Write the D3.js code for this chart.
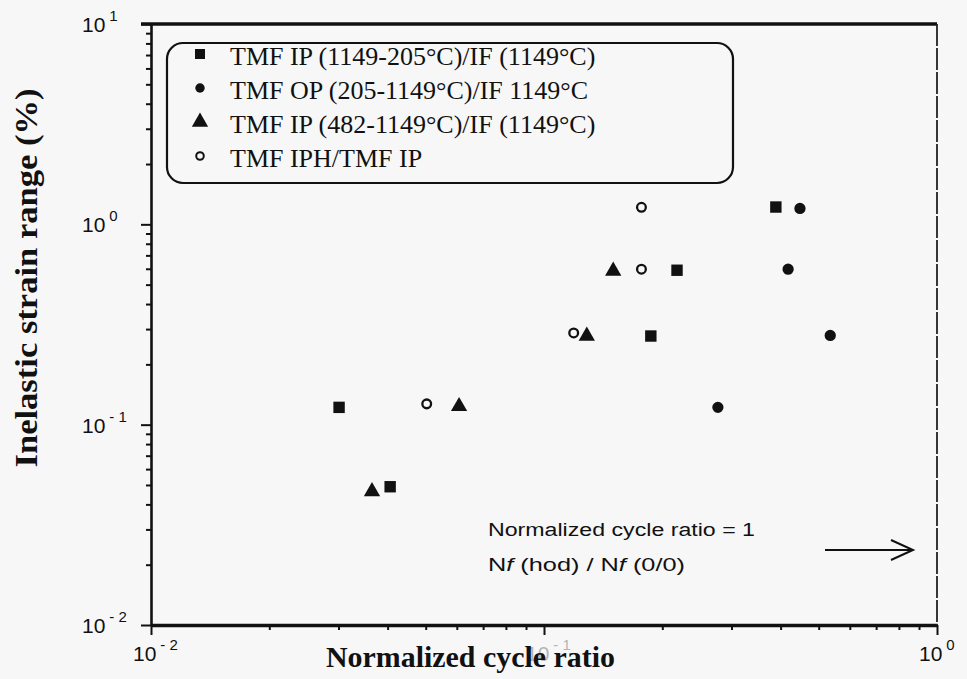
<!DOCTYPE html>
<html>
<head>
<meta charset="utf-8">
<script src="https://cdn.jsdelivr.net/npm/d3@7"></script>
<style>
body { margin: 0; background: #f7f7f7; }
svg { display: block; }
</style>
</head>
<body>
<div id="chart"></div>
<script>
// values
var seriesNames = [
    "TMF IP (1149-205°C)/IF (1149°C)",
    "TMF OP (205-1149°C)/IF 1149°C",
    "TMF IP (482-1149°C)/IF (1149°C)",
    "TMF IPH/TMF IP"
];
var ipCycleRatio = [0.0301, 0.0406, 0.187, 0.218, 0.389];
var ipStrain = [0.122, 0.049, 0.277, 0.59, 1.22];
var opCycleRatio = [0.277, 0.418, 0.448, 0.535];
var opStrain = [0.122, 0.597, 1.2, 0.279];
var ip482CycleRatio = [0.0365, 0.0608, 0.1285, 0.150];
var ip482Strain = [0.0464, 0.1235, 0.277, 0.585];
var iphCycleRatio = [0.0503, 0.119, 0.177, 0.177];
var iphStrain = [0.127, 0.287, 1.216, 0.597];

var xTickValues = [0.01, 0.1, 1];
var xTickExponents = ["-2", "-1", "0"];
var yTickValues = [0.01, 0.1, 1, 10];
var yTickExponents = ["-2", "-1", "0", "1"];

/**
 * Constructor for the strain range vs cycle ratio chart
 */
function StrainChart(){
    var self = this;
    self.init();
};

/**
 * Sets up the svg, scales and axes
 */
StrainChart.prototype.init = function(){
    var self = this;
    self.margin = {top: 24, left: 151};
    self.width = 786;
    self.height = 601;

    self.svg = d3.select("#chart").append("svg")
        .attr("width", 967)
        .attr("height", 679);

    self.x = d3.scaleLog().domain([0.01, 1])
        .range([self.margin.left, self.margin.left + self.width]);
    self.y = d3.scaleLog().domain([0.01, 10])
        .range([self.margin.top + self.height, self.margin.top]);
};

/**
 * Formats an exponent the way the scan prints it
 */
StrainChart.prototype.expText = function(e){
    return e.charAt(0) == "-" ? "- " + e.substring(1) : e;
};

/**
 * Draws frame, ticks and labels
 */
StrainChart.prototype.drawAxes = function(){
    var self = this;
    var x = self.x, y = self.y;
    var bottom = y(0.01), left = x(0.01);

    //minor ticks come from the log scale itself
    var yMinor = y.ticks().filter(function(d){ return yTickValues.indexOf(d) < 0; });
    var xMinor = x.ticks().filter(function(d){ return xTickValues.indexOf(d) < 0; });

    var gy = self.svg.append("g").attr("transform", "translate(" + left + ",0)")
        .call(d3.axisLeft(y).tickValues(yTickValues).tickSize(10).tickSizeOuter(0).tickFormat(""));
    var gyMinor = self.svg.append("g").attr("transform", "translate(" + left + ",0)")
        .call(d3.axisLeft(y).tickValues(yMinor).tickSize(5).tickSizeOuter(0).tickFormat(""));
    gyMinor.select(".domain").remove();

    var gx = self.svg.append("g").attr("transform", "translate(0," + bottom + ")")
        .call(d3.axisBottom(x).tickValues(xTickValues).tickSize(10).tickSizeOuter(0).tickFormat(""));
    var gxMinor = self.svg.append("g").attr("transform", "translate(0," + bottom + ")")
        .call(d3.axisBottom(x).tickValues(xMinor).tickSize(5).tickSizeOuter(0).tickFormat(""));
    gxMinor.select(".domain").remove();

    self.svg.selectAll(".tick line").attr("stroke", "#111").attr("stroke-width", 2);
    gy.select(".domain").attr("stroke", "#111").attr("stroke-width", 2.6);
    gx.select(".domain").attr("stroke", "#111").attr("stroke-width", 3.6);

    //top and right edges of the frame
    self.svg.append("line")
        .attr("x1", left - 10).attr("x2", x(1))
        .attr("y1", y(10)).attr("y2", y(10))
        .attr("stroke", "#111").attr("stroke-width", 3.6);
    self.svg.append("line")
        .attr("x1", x(1)).attr("x2", x(1))
        .attr("y1", y(10)).attr("y2", bottom)
        .attr("stroke", "#222").attr("stroke-width", 1.8)
        .attr("stroke-dasharray", "22 2");

    //tick labels: 10 with raised exponent
    var ylab = self.svg.append("g").selectAll("text").data(yTickValues).enter().append("text")
        .attr("x", 82)
        .attr("y", function(d){ return y(d) + 8; })
        .attr("font-family", "Liberation Sans, Arial, sans-serif")
        .attr("font-size", 21)
        .attr("fill", "#111");
    ylab.append("tspan").text("10");
    ylab.append("tspan")
        .attr("dx", 4).attr("dy", -11)
        .attr("font-size", 15)
        .text(function(d, i){ return self.expText(yTickExponents[i]); });

    var xlab = self.svg.append("g").selectAll("text").data(xTickValues).enter().append("text")
        .attr("x", function(d){ return x(d) - 18; })
        .attr("y", bottom + 36)
        .attr("font-family", "Liberation Sans, Arial, sans-serif")
        .attr("font-size", 21)
        .attr("fill", function(d){ return d == 0.1 ? "#b5b5b5" : "#111"; });
    xlab.append("tspan").text("10");
    xlab.append("tspan")
        .attr("dx", 4).attr("dy", -11)
        .attr("font-size", 15)
        .text(function(d, i){ return self.expText(xTickExponents[i]); });

    //axis titles
    self.svg.append("text")
        .attr("x", 326).attr("y", 667)
        .attr("font-family", "Liberation Serif, Times New Roman, serif")
        .attr("font-weight", "bold")
        .attr("font-size", 29)
        .attr("textLength", 289)
        .attr("lengthAdjust", "spacingAndGlyphs")
        .attr("fill", "#111")
        .text("Normalized cycle ratio");

    self.svg.append("text")
        .attr("transform", "translate(37,278) rotate(-90)")
        .attr("text-anchor", "middle")
        .attr("font-family", "Liberation Serif, Times New Roman, serif")
        .attr("font-weight", "bold")
        .attr("font-size", 31)
        .attr("textLength", 379)
        .attr("lengthAdjust", "spacingAndGlyphs")
        .attr("fill", "#111")
        .text("Inelastic strain range (%)");
};

/**
 * Draws the four series and the legend box
 */
StrainChart.prototype.update = function(){
    var self = this;
    var x = self.x, y = self.y;

    var series = [
        {name: seriesNames[0], xs: ipCycleRatio, ys: ipStrain, type: d3.symbolSquare, size: 130, open: false, lsize: 100},
        {name: seriesNames[1], xs: opCycleRatio, ys: opStrain, type: d3.symbolCircle, size: 100, open: false, lsize: 70},
        {name: seriesNames[2], xs: ip482CycleRatio, ys: ip482Strain, type: d3.symbolTriangle, size: 115, open: false, lsize: 115},
        {name: seriesNames[3], xs: iphCycleRatio, ys: iphStrain, type: d3.symbolCircle, size: 60, open: true, lsize: 45}
    ];

    var groups = self.svg.selectAll("g.series").data(series).enter().append("g")
        .attr("class", "series");

    groups.selectAll("path").data(function(s){
        return s.xs.map(function(v, i){ return {x: v, y: s.ys[i], s: s}; });
    }).enter().append("path")
        .attr("d", function(d){ return d3.symbol().type(d.s.type).size(d.s.size)(); })
        .attr("transform", function(d){ return "translate(" + x(d.x) + "," + y(d.y) + ")"; })
        .attr("fill", function(d){ return d.s.open ? "none" : "#111"; })
        .attr("stroke", function(d){ return d.s.open ? "#111" : "none"; })
        .attr("stroke-width", 2.3);

    //legend
    var legend = self.svg.append("g");
    legend.append("rect")
        .attr("x", 167).attr("y", 43)
        .attr("width", 566).attr("height", 140)
        .attr("rx", 16).attr("ry", 16)
        .attr("fill", "none")
        .attr("stroke", "#111")
        .attr("stroke-width", 2.2);

    var rows = legend.selectAll("g").data(series).enter().append("g")
        .attr("transform", function(d, i){ return "translate(0," + (i * 34) + ")"; });
    rows.append("path")
        .attr("d", function(d){ return d3.symbol().type(d.type).size(d.lsize)(); })
        .attr("transform", "translate(200,54)")
        .attr("fill", function(d){ return d.open ? "none" : "#111"; })
        .attr("stroke", function(d){ return d.open ? "#111" : "none"; })
        .attr("stroke-width", 2);
    rows.append("text")
        .attr("x", 230).attr("y", 65)
        .attr("font-family", "Liberation Serif, Times New Roman, serif")
        .attr("font-size", 26)
        .attr("fill", "#111")
        .text(function(d){ return d.name; });

    //note about the normalized cycle ratio
    var note = self.svg.append("g")
        .attr("font-family", "Liberation Sans, Arial, sans-serif")
        .attr("font-size", 18)
        .attr("fill", "#111");
    note.append("text")
        .attr("x", 488).attr("y", 536)
        .attr("textLength", 267)
        .attr("lengthAdjust", "spacingAndGlyphs")
        .text("Normalized cycle ratio = 1");
    var line2 = note.append("text")
        .attr("x", 488).attr("y", 571)
        .attr("textLength", 197)
        .attr("lengthAdjust", "spacingAndGlyphs");
    line2.append("tspan").text("N");
    line2.append("tspan").attr("font-style", "italic").text("f");
    line2.append("tspan").text(" (hod) / N");
    line2.append("tspan").attr("font-style", "italic").text("f");
    line2.append("tspan").text(" (0/0)");

    var ax = x(1) - 24, ay = 550;
    note.append("line")
        .attr("x1", ax - 88).attr("x2", ax)
        .attr("y1", ay).attr("y2", ay)
        .attr("stroke", "#111").attr("stroke-width", 2.2);
    note.append("path")
        .attr("d", "M" + (ax - 22) + "," + (ay - 10) + "L" + ax + "," + ay + "L" + (ax - 22) + "," + (ay + 10))
        .attr("fill", "none")
        .attr("stroke", "#111").attr("stroke-width", 2);
};

var chart = new StrainChart();
chart.drawAxes();
chart.update();
</script>
</body>
</html>
